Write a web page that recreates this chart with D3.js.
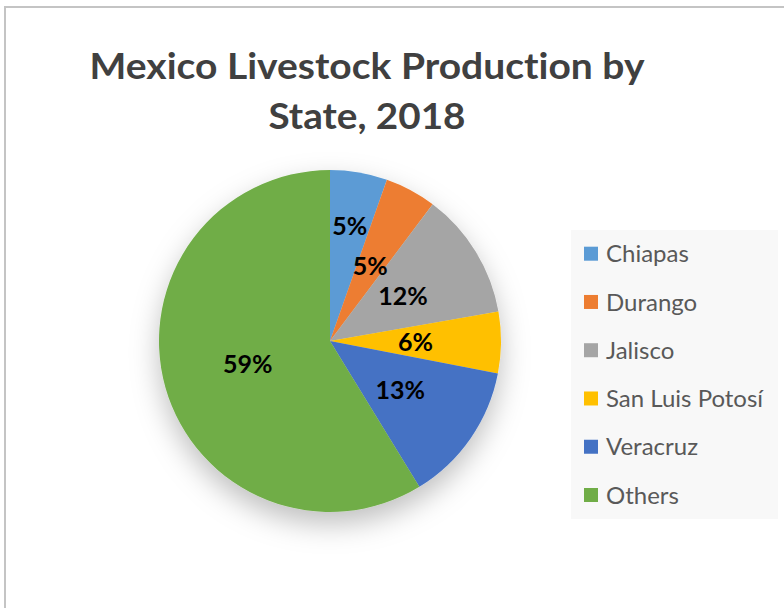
<!DOCTYPE html>
<html>
<head>
<meta charset="utf-8">
<script src="https://cdn.jsdelivr.net/npm/d3@7"></script>
<style>
  html, body { margin: 0; padding: 0; background: #ffffff; }
  svg { display: block; }
  text { font-variant-ligatures: none; font-feature-settings: "liga" 0; }
</style>
</head>
<body>
<svg id="chart" width="784" height="608"></svg>
<script>
// Share of livestock production by state, Mexico 2018 (percent)
const states = ["Chiapas", "Durango", "Jalisco", "San Luis Potosí", "Veracruz", "Others"];
const shares = [5.4, 4.85, 12.0, 5.8, 13.2, 58.75];
const sliceColors = ["#5B9BD5", "#ED7D31", "#A5A5A5", "#FFC000", "#4472C4", "#70AD47"];
const titleLines = ["Mexico Livestock Production by", "State, 2018"];

const svg = d3.select("#chart");
const W = 784, H = 608;

// chart area frame (runs off the right and bottom edges)
svg.append("rect")
  .attr("x", 5).attr("y", 7)
  .attr("width", W + 20).attr("height", H + 20)
  .attr("fill", "#ffffff")
  .attr("stroke", "#c4c4c4")
  .attr("stroke-width", 2);

// soft shadow beneath the pie
const defs = svg.append("defs");
const shadow = defs.append("filter")
  .attr("id", "pieShadow")
  .attr("x", "-40%").attr("y", "-40%")
  .attr("width", "180%").attr("height", "180%");
shadow.append("feDropShadow")
  .attr("dx", 0).attr("dy", 12)
  .attr("stdDeviation", 14)
  .attr("flood-color", "#000000")
  .attr("flood-opacity", 0.25);

// title, each line stretched to its set width
const titleWidths = [555, 197];
const title = svg.append("text")
  .attr("text-anchor", "middle")
  .attr("font-family", "Lato, 'Open Sans', sans-serif")
  .attr("font-weight", 700)
  .attr("font-size", 36)
  .attr("fill", "#404040");
title.selectAll("tspan")
  .data(titleLines)
  .join("tspan")
  .attr("x", 367)
  .attr("y", (d, i) => 79 + i * 50)
  .attr("textLength", (d, i) => titleWidths[i])
  .attr("lengthAdjust", "spacingAndGlyphs")
  .text(d => d);

// pie
const cx = 330, cy = 341, R = 171;
const pie = d3.pie().sort(null).value(d => d.value);
const arcs = pie(states.map((s, i) => ({ name: s, value: shares[i] })));
const total = d3.sum(shares);
const color = d3.scaleOrdinal().domain(states).range(sliceColors);
const arc = d3.arc().innerRadius(0).outerRadius(R);
const pct = d3.format(".0%");

const g = svg.append("g").attr("transform", `translate(${cx},${cy})`);
g.append("g")
  .attr("filter", "url(#pieShadow)")
  .selectAll("path")
  .data(arcs)
  .join("path")
  .attr("d", arc)
  .attr("fill", d => color(d.data.name));

// data labels: centred in each slice, the narrow first slice pushed outward
const labelArc = i => d3.arc().innerRadius(0).outerRadius(i === 0 ? R * 1.36 : R);
g.selectAll("text.lbl")
  .data(arcs)
  .join("text")
  .attr("class", "lbl")
  .attr("transform", (d, i) => `translate(${labelArc(i).centroid(d)})`)
  .attr("text-anchor", "middle")
  .attr("dy", "0.36em")
  .attr("font-family", "Lato, 'Open Sans', sans-serif")
  .attr("font-weight", 700)
  .attr("font-size", 25)
  .attr("fill", "#000000")
  .text(d => pct(d.data.value / total));

// legend
const legend = svg.append("g");
legend.append("rect")
  .attr("x", 571).attr("y", 230)
  .attr("width", 207).attr("height", 289)
  .attr("fill", "#f8f8f8");
const rowY = d3.scalePoint().domain(states).range([253.7, 495]);
const item = legend.selectAll("g.item")
  .data(states)
  .join("g")
  .attr("class", "item")
  .attr("transform", d => `translate(584,${rowY(d)})`);
item.append("rect")
  .attr("x", 0).attr("y", -7)
  .attr("width", 14).attr("height", 14)
  .attr("fill", d => color(d));
item.append("text")
  .attr("x", 22)
  .attr("dy", "0.36em")
  .attr("font-family", "Lato, 'Open Sans', sans-serif")
  .attr("font-size", 24)
  .attr("fill", "#595959")
  .text(d => d);
</script>
</body>
</html>
